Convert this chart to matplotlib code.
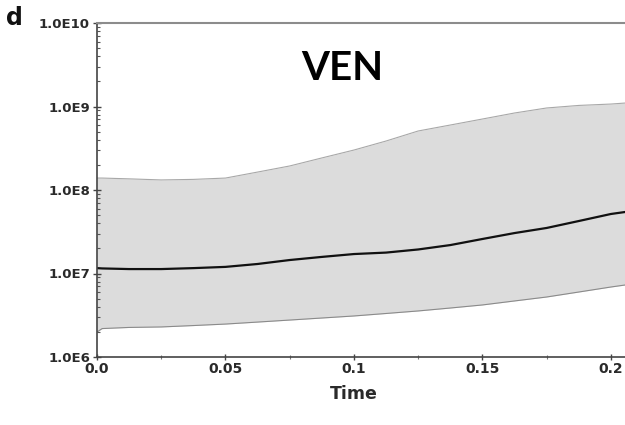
import numpy as np
import matplotlib
matplotlib.use("Agg")
import matplotlib.pyplot as plt
from matplotlib.ticker import LogLocator, FuncFormatter, MultipleLocator

# 中位数轨迹及其95%区间（VEN）
time = [0.0, 0.002, 0.0125, 0.025, 0.0375, 0.05, 0.0625, 0.075, 0.0875, 0.1,
        0.1125, 0.125, 0.1375, 0.15, 0.1625, 0.175, 0.1875, 0.2, 0.2055]
median = [1.16e7, 1.15e7, 1.13e7, 1.13e7, 1.16e7, 1.20e7, 1.30e7, 1.45e7, 1.58e7, 1.71e7,
          1.78e7, 1.94e7, 2.19e7, 2.59e7, 3.05e7, 3.51e7, 4.25e7, 5.16e7, 5.45e7]
upper = [1.39e8, 1.39e8, 1.36e8, 1.32e8, 1.34e8, 1.39e8, 1.64e8, 1.94e8, 2.42e8, 3.01e8,
         3.86e8, 5.09e8, 6.00e8, 7.08e8, 8.36e8, 9.60e8, 1.03e9, 1.07e9, 1.10e9]
lower = [1.99e6, 2.19e6, 2.26e6, 2.29e6, 2.38e6, 2.48e6, 2.62e6, 2.77e6, 2.93e6, 3.10e6,
         3.32e6, 3.56e6, 3.86e6, 4.20e6, 4.69e6, 5.23e6, 6.00e6, 6.89e6, 7.28e6]

x_ticks = [0.0, 0.05, 0.1, 0.15, 0.2]
x_tick_labels = ["0.0", "0.05", "0.1", "0.15", "0.2"]

plt.rcParams['font.family'] = ['DejaVu Sans']

fig = plt.figure(figsize=(6.25, 4.25), dpi=100)
ax = fig.add_axes([97 / 625, 1 - 357 / 425, 1 - 97 / 625, (357 - 23) / 425])

# 区间带与中位数线
ax.fill_between(time, lower, upper, color='#dcdcdc', linewidth=0)
ax.plot(time, upper, color='#a8a8a8', linewidth=0.8)
ax.plot(time, lower, color='#8a8a8a', linewidth=0.8)
ax.plot(time, median, color='#111111', linewidth=1.6)

ax.set_yscale('log')
ax.set_ylim(1e6, 1e10)
ax.set_xlim(0, 0.2055)

ax.yaxis.set_major_locator(LogLocator(base=10, numticks=10))
ax.yaxis.set_minor_locator(LogLocator(base=10, subs=np.arange(2, 10), numticks=10))
ax.yaxis.set_major_formatter(FuncFormatter(lambda v, p: "1.0E%d" % int(round(np.log10(v)))))
ax.yaxis.set_minor_formatter(FuncFormatter(lambda v, p: ""))

ax.set_xticks(x_ticks)
ax.set_xticklabels(x_tick_labels)
ax.xaxis.set_minor_locator(MultipleLocator(0.025))

ax.tick_params(axis='y', which='major', direction='inout', length=6, width=1,
               color='#444444', labelsize=9.5, labelcolor='#2a2a2a', pad=2)
ax.tick_params(axis='y', which='minor', direction='in', length=2.5, width=0.8,
               color='#555555')
ax.tick_params(axis='x', which='major', direction='inout', length=5, width=1,
               color='#444444', labelsize=10, labelcolor='#2a2a2a', pad=1)
ax.tick_params(axis='x', which='minor', direction='inout', length=3, width=0.8,
               color='#777777')
for lab in ax.get_xticklabels() + ax.get_yticklabels():
    lab.set_fontweight('bold')

for side in ['left', 'bottom']:
    ax.spines[side].set_color('#444444')
    ax.spines[side].set_linewidth(1.2)
ax.spines['top'].set_color('#8c8c8c')
ax.spines['top'].set_linewidth(1.5)
ax.spines['right'].set_visible(False)

ax.set_xlabel('Time', fontsize=12.5, fontweight='bold', color='#2a2a2a')
ax.xaxis.set_label_coords((354 - 97) / 528, -0.085)

fig.text(342 / 625, 1 - 68 / 425, 'VEN', fontsize=29, fontweight='bold',
         family=['Lato', 'DejaVu Sans'], ha='center', va='center', color='black')
fig.text(6 / 625, 1 - 18 / 425, 'd', fontsize=17, fontweight='bold',
         ha='left', va='center', color='#111111')

fig.savefig('out.png', dpi=100)
